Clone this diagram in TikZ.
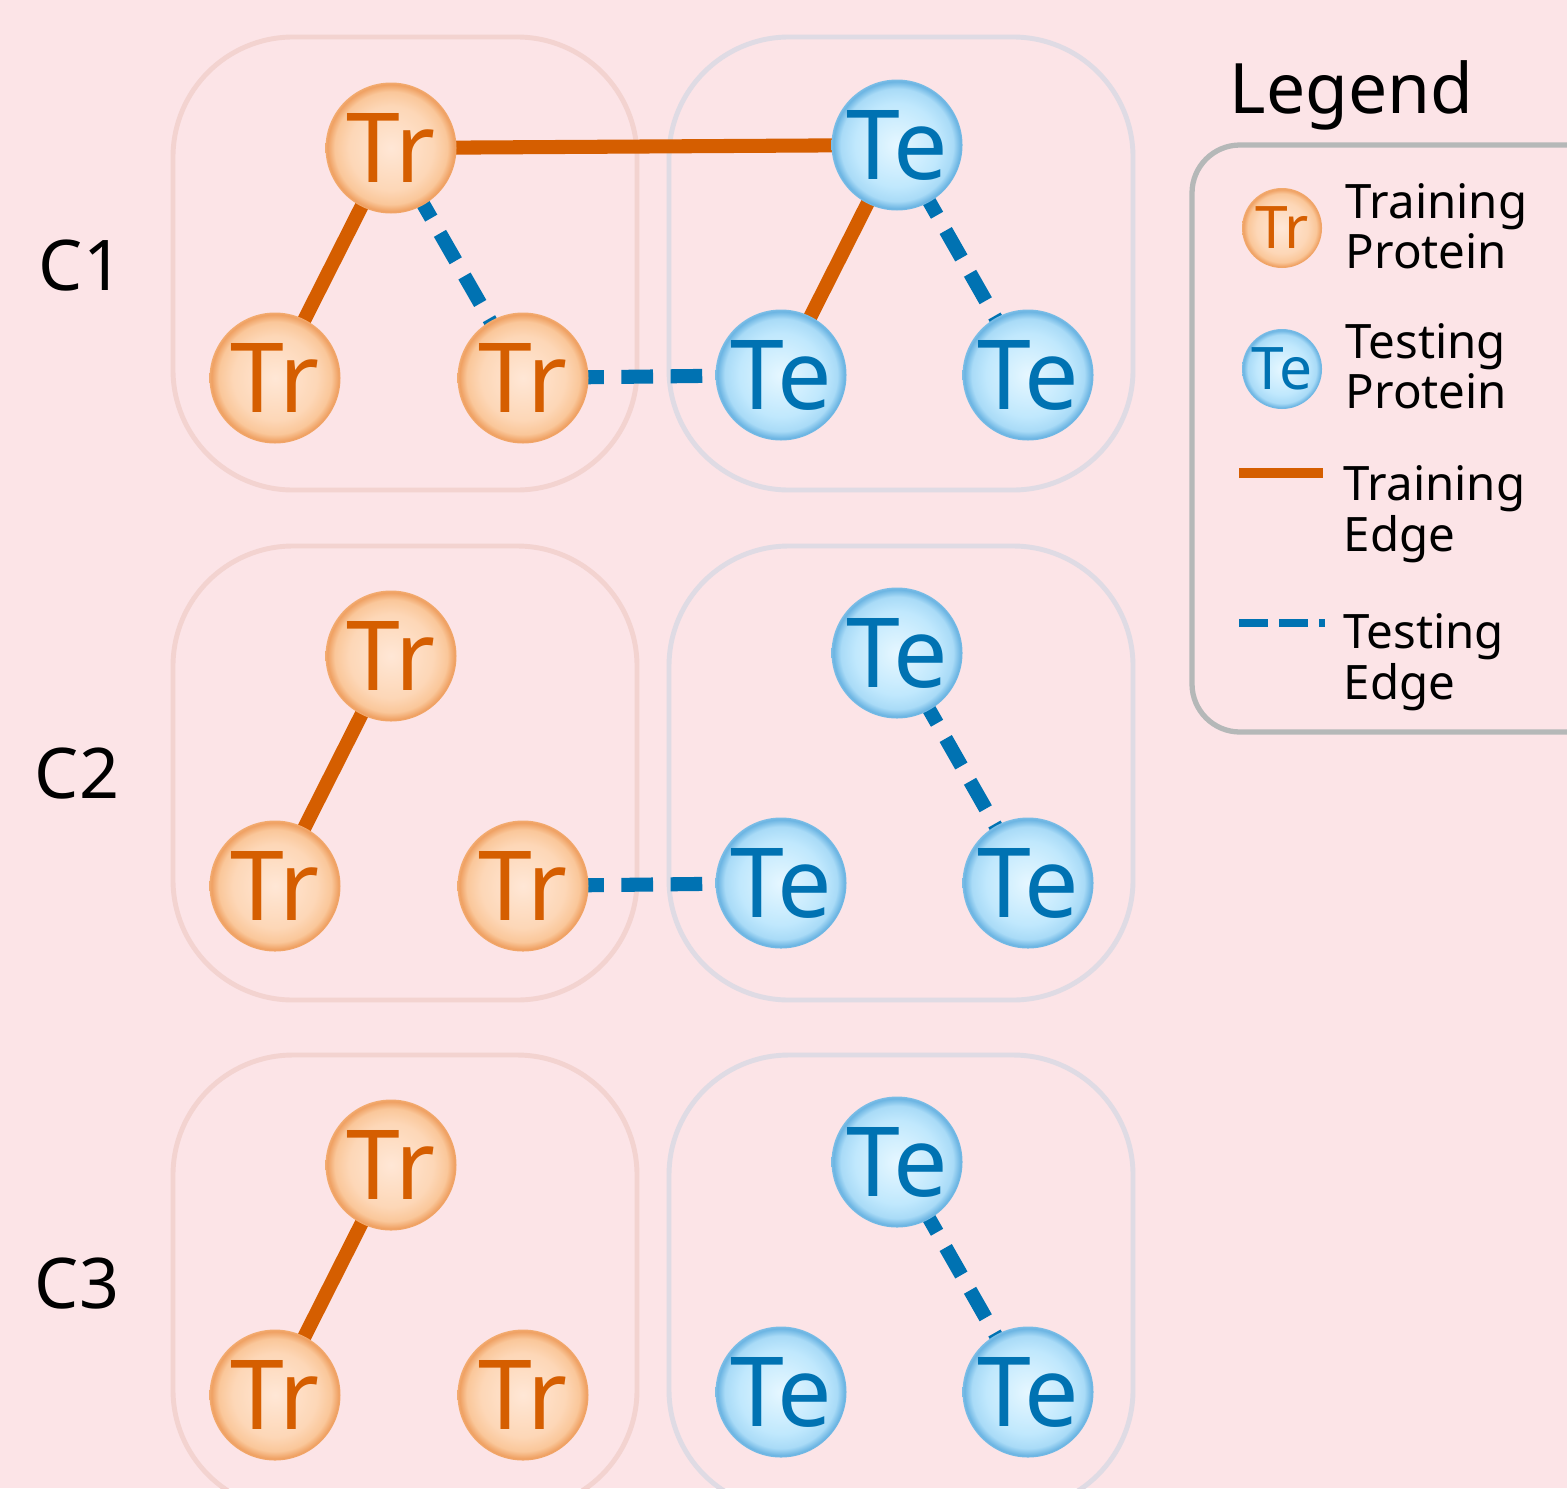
\documentclass[tikz,border=0pt]{standalone}
\usepackage{fontspec}
\setmainfont{Noto Sans}
\pgfdeclarelayer{bg}
\pgfdeclarelayer{edges}
\pgfsetlayers{bg,edges,main}
\definecolor{bgpink}{HTML}{FCE4E7}
\definecolor{trbox}{HTML}{F3D3D0}
\definecolor{tebox}{HTML}{DFDBE4}
\definecolor{legbox}{HTML}{B5B8B8}
\definecolor{trtext}{HTML}{D55E00}
\definecolor{tetext}{HTML}{0072B2}
\definecolor{trA}{HTML}{FFE7D6}
\definecolor{trB}{HTML}{FDD7B7}
\definecolor{trC}{HTML}{FAC79A}
\definecolor{trD}{HTML}{EFA062}
\definecolor{trE}{HTML}{F2AB70}
\definecolor{teA}{HTML}{E6F7FF}
\definecolor{teB}{HTML}{C0E8FD}
\definecolor{teC}{HTML}{A9DBF7}
\definecolor{teD}{HTML}{6BB4E2}
\definecolor{teE}{HTML}{7BBDE6}
\pgfdeclareradialshading{trball}{\pgfpoint{0bp}{0bp}}{color(0bp)=(trA); color(16bp)=(trB); color(21.5bp)=(trC); color(24.3bp)=(trD); color(25bp)=(trE); color(50bp)=(trE)}
\pgfdeclareradialshading{teball}{\pgfpoint{0bp}{0bp}}{color(0bp)=(teA); color(16bp)=(teB); color(21.5bp)=(teC); color(24.3bp)=(teD); color(25bp)=(teE); color(50bp)=(teE)}
\tikzset{
  trnode/.style={circle, minimum size=13.1mm, inner sep=0pt, shading=trball, text=trtext, font=\fontsize{27.5}{30}\selectfont},
  tenode/.style={circle, minimum size=13.1mm, inner sep=0pt, shading=teball, text=tetext, font=\fontsize{27.5}{30}\selectfont},
  trsmall/.style={trnode, minimum size=8mm, font=\fontsize{16.7}{18}\selectfont},
  tesmall/.style={tenode, minimum size=8mm, font=\fontsize{16.7}{18}\selectfont},
  trainedge/.style={draw=trtext, line width=4pt},
  testedge/.style={draw=tetext, line width=4pt, dash pattern=on 9pt off 5pt},
  trgroup/.style={draw=trbox, line width=1.4pt, rounded corners=12mm},
  tegroup/.style={draw=tebox, line width=1.4pt, rounded corners=12mm},
  rowlabel/.style={anchor=base, inner sep=0pt, font=\fontsize{19.9}{22}\selectfont},
  legtext/.style={anchor=base west, inner sep=0pt, align=left, font=\fontsize{13.5}{13.1}\selectfont},
}
\begin{document}
\begin{tikzpicture}[x=0.1mm,y=-0.1mm]
\useasboundingbox (0,0) rectangle (1567,1488);
\begin{pgfonlayer}{bg}
  \fill[bgpink] (0,0) rectangle (1567,1488);
  \begin{scope}
    \clip (0,0) rectangle (1567,1488);
    \draw[trgroup] (173,37) rectangle (637,490);
    \draw[tegroup] (669,37) rectangle (1133,490);
    \draw[trgroup] (173,546) rectangle (637,1000);
    \draw[tegroup] (669,546) rectangle (1133,1000);
    \draw[trgroup] (173,1055) rectangle (637,1510);
    \draw[tegroup] (669,1055) rectangle (1133,1510);
    \draw[draw=legbox, line width=1.5pt, rounded corners=4.8mm] (1192,145) rectangle (1620,732);
  \end{scope}
\end{pgfonlayer}

% row labels
\node[rowlabel] (c1) at (81,290) {C1};
\node[rowlabel] (c2) at (77,798) {C2};
\node[rowlabel] (c3) at (77,1308) {C3};

% row 1
\node[trnode] (a1) at (391,148) {Tr};
\node[trnode] (a2) at (275,378) {Tr};
\node[trnode] (a3) at (523,378) {Tr};
\node[tenode] (b1) at (897,145) {Te};
\node[tenode] (b2) at (781,375) {Te};
\node[tenode] (b3) at (1028,375) {Te};
% row 2
\node[trnode] (d1) at (391,656) {Tr};
\node[trnode] (d2) at (275,886) {Tr};
\node[trnode] (d3) at (523,886) {Tr};
\node[tenode] (e1) at (897,653) {Te};
\node[tenode] (e2) at (781,883) {Te};
\node[tenode] (e3) at (1028,883) {Te};
% row 3
\node[trnode] (f1) at (391,1165) {Tr};
\node[trnode] (f2) at (275,1395) {Tr};
\node[trnode] (f3) at (523,1395) {Tr};
\node[tenode] (g1) at (897,1162) {Te};
\node[tenode] (g2) at (781,1392) {Te};
\node[tenode] (g3) at (1028,1392) {Te};

\begin{pgfonlayer}{edges}
  \draw[trainedge] (a1.center) -- (b1.center);
  \draw[trainedge] (a1.center) -- (a2.center);
  \draw[trainedge] (b1.center) -- (b2.center);
  \draw[testedge] (a1.center) -- (a3.center);
  \draw[testedge] (a3.center) -- (b2.center);
  \draw[testedge] (b1.center) -- (b3.center);
  \draw[trainedge] (d1.center) -- (d2.center);
  \draw[testedge] (d3.center) -- (e2.center);
  \draw[testedge] (e1.center) -- (e3.center);
  \draw[trainedge] (f1.center) -- (f2.center);
  \draw[testedge] (g1.center) -- (g3.center);
\end{pgfonlayer}

% legend
\node[anchor=base west, inner sep=0pt, font=\fontsize{19.8}{22}\selectfont] (legtitle) at (1229,113) {Legend};
\node[trsmall] (ltr) at (1282,228) {Tr};
\node[legtext] (ltrt) at (1345,268) {Training\\Protein};
\node[tesmall] (lte) at (1282,369) {Te};
\node[legtext] (ltet) at (1345,408) {Testing\\Protein};
\coordinate (lta) at (1239,473);
\coordinate (ltb) at (1323,473);
\draw[draw=trtext, line width=2.8pt] (lta) -- (ltb);
\node[legtext] (ltrn) at (1343,551) {Training\\Edge};
\coordinate (lsa) at (1239,623);
\coordinate (lsb) at (1325,623);
\draw[draw=tetext, line width=2.3pt, dash pattern=on 8.2pt off 3.2pt] (lsa) -- (lsb);
\node[legtext] (ltst) at (1343,699) {Testing\\Edge};
\end{tikzpicture}
\end{document}
